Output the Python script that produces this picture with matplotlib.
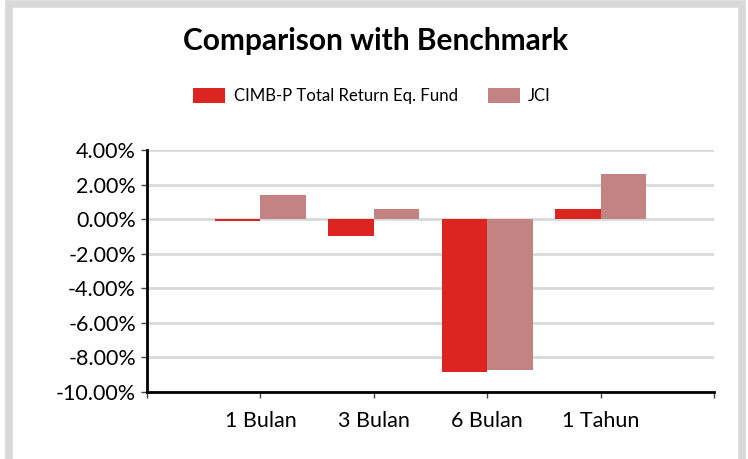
import matplotlib
matplotlib.use("Agg")
import matplotlib.pyplot as plt
from matplotlib.patches import Rectangle
from matplotlib.ticker import FuncFormatter, FixedLocator

plt.rcParams['font.family'] = ['Lato', 'DejaVu Sans']

categories = ["", "1 Bulan", "3 Bulan", "6 Bulan", "1 Tahun", ""]
fund_values = [-0.08, -0.98, -8.87, 0.57]
jci_values = [1.38, 0.59, -8.72, 2.62]
series_names = ["CIMB-P Total Return Eq. Fund", "JCI"]
y_ticks = [4, 2, 0, -2, -4, -6, -8, -10]

RED = "#DC2521"
PINK = "#C48383"
GRID = "#D9D9D9"

W, H = 748, 459
fig = plt.figure(figsize=(W / 100, H / 100), dpi=100)
fig.patch.set_facecolor("white")

# outer gray frame
fig.patches.append(Rectangle((8.5 / W, -0.2), (742 - 8.5) / W, 1.2 - 4 / H,
                             transform=fig.transFigure, fill=False,
                             edgecolor=GRID, linewidth=5.5, clip_on=False))

ax = fig.add_axes([147 / W, 1 - 392 / H, (714 - 147) / W, (392 - 150) / H])

xs = list(range(1, 1 + len(fund_values)))
bw = 0.4
ax.bar([x - bw / 2 for x in xs], fund_values, width=bw, color=RED,
       label=series_names[0], zorder=3)
ax.bar([x + bw / 2 for x in xs], jci_values, width=bw, color=PINK,
       label=series_names[1], zorder=3)

ax.set_xlim(0, len(categories) - 1)
ax.set_ylim(-10, 4)
ax.xaxis.set_major_locator(FixedLocator(range(len(categories))))
ax.set_xticklabels(categories)
ax.yaxis.set_major_locator(FixedLocator(y_ticks))
ax.yaxis.set_major_formatter(FuncFormatter(lambda v, p: f"{v:.2f}%"))

ax.grid(axis="y", color=GRID, linewidth=2, zorder=0)
ax.set_axisbelow(True)
for s in ["top", "right"]:
    ax.spines[s].set_visible(False)
for s in ["left", "bottom"]:
    ax.spines[s].set_linewidth(2)
    ax.spines[s].set_color("black")
ax.tick_params(axis="both", length=4, width=1, color="#444444",
               labelsize=15.5, direction="out")
ax.tick_params(axis="x", pad=10)
ax.tick_params(axis="y", pad=4)

fig.text(376 / W, 1 - 41 / H, "Comparison with Benchmark", ha="center",
         va="center", fontsize=21.5, fontweight="bold")

fig.legend(loc="center", bbox_to_anchor=(372 / W, 1 - 96 / H), ncol=2,
           frameon=False, fontsize=12.1, handlelength=1.9, handleheight=1.0,
           columnspacing=1.8, handletextpad=0.5)

fig.savefig("out.png", dpi=100, facecolor="white")
